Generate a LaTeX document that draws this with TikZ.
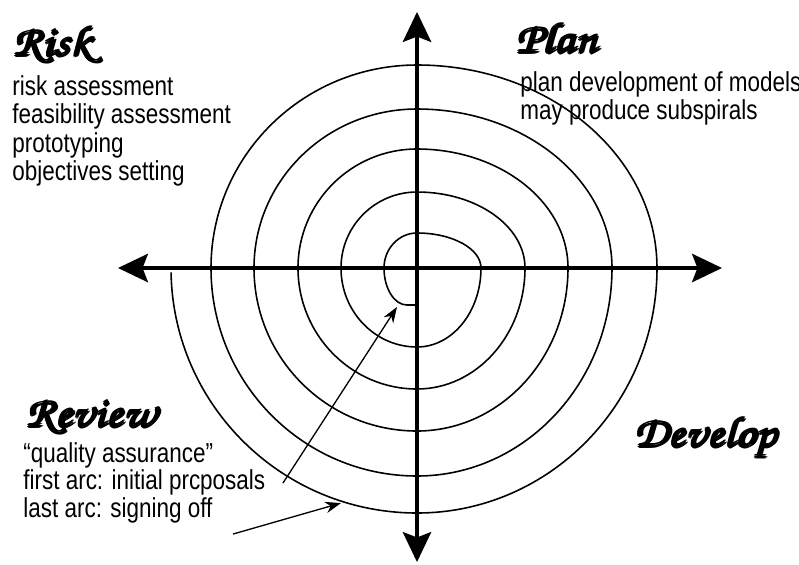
\documentclass[tikz,border=0pt]{standalone}
\usepackage[T1,TU]{fontenc}
\usepackage{fontspec}
\setmainfont{Liberation Sans}[FakeStretch=0.82]
\usetikzlibrary{arrows.meta}

% calligraphic phase names, thickened by overprinting
\newcommand\phasefont{\fontencoding{T1}\fontfamily{pzc}\fontseries{m}\fontshape{it}\fontsize{24}{24}\selectfont}
\newcommand\phasehead[1]{\scalebox{1.17}[1]{\rlap{\kern1pt #1}\rlap{\kern0.5pt\raisebox{0.6pt}{#1}}%
  \rlap{\kern0.5pt\raisebox{-0.6pt}{#1}}\rlap{\raisebox{0.8pt}{#1}}\rlap{\raisebox{-0.5pt}{#1}}#1}}

\tikzset{
  axis/.style={line width=2.6pt,
    {Stealth[length=17pt,width=16pt,inset=3pt]}-{Stealth[length=17pt,width=16pt,inset=3pt]}},
  coil/.style={line width=0.9pt, line join=round},
  pointer/.style={line width=0.75pt, -{Stealth[length=9pt,width=6.5pt]}},
  phase/.style={anchor=base west, inner sep=0pt, font=\phasefont},
  note/.style={anchor=base west, inner sep=0pt, font=\fontsize{15.6}{16}\selectfont},
}

\begin{document}
\begin{tikzpicture}[scale=0.02]
  \useasboundingbox (-417,-296) rectangle (382,268);

  % spiral, one quarter arc per quadrant round the crossing of the axes
  \draw[coil] (0,-37) -- (-10,-37)
    arc[start angle=270, end angle=180, x radius=23, y radius=37]
    \foreach \a/\b/\rx/\ry in {180/90/33/35, 90/0/64/35, 0/-90/64/79,
        270/180/76/79, 180/90/76/76, 90/0/108/76, 0/-90/108/121,
        270/180/119/121, 180/90/119/119, 90/0/151/119, 0/-90/151/163,
        270/180/163/163, 180/90/163/159, 90/0/195/159, 0/-90/195/208,
        270/180/206/208, 180/90/206/203, 90/0/240/203, 0/-90/240/245,
        270/181/246/245}
    { arc[start angle=\a, end angle=\b, x radius=\rx, y radius=\ry] };

  % axes
  \coordinate (west)  at (-299,0);
  \coordinate (east)  at (305,0);
  \coordinate (north) at (0,256);
  \coordinate (south) at (0,-294);
  \draw[axis] (west) -- (east);
  \draw[axis] (south) -- (north);

  % quadrant names
  \node[phase] (riskhead)    at (-405,212)  {\phasehead{Risk}};
  \node[phase] (planhead)    at (98,215)    {\phasehead{Plan}};
  \node[phase] (reviewhead)  at (-392,-159) {\phasehead{Review}};
  \node[phase] (develophead) at (216,-179)  {\phasehead{Develop}};

  % quadrant notes
  \foreach \t [count=\i] in {risk assessment, feasibility assessment,
      prototyping, objectives setting}
    \node[note] (risk\i) at (-405,173-28.5*\i+28.5) {\t};
  \foreach \t [count=\i] in {plan development of models,
      may produce subspirals}
    \node[note] (plan\i) at (103,177-28.5*\i+28.5) {\t};
  \foreach \t [count=\i] in {``quality assurance'', first arc: initial prcposals,
      last arc: signing off}
    \node[note] (review\i) at (-394,-194-27.5*\i+27.5) {\t};

  % pointers to the first and the last arc
  \coordinate (firsttail) at (-134,-215);
  \coordinate (firsttip)  at (-20,-39);
  \coordinate (lasttail)  at (-184,-266);
  \coordinate (lasttip)   at (-76,-235);
  \draw[pointer] (firsttail) -- (firsttip);
  \draw[pointer] (lasttail) -- (lasttip);

\end{tikzpicture}
\end{document}
